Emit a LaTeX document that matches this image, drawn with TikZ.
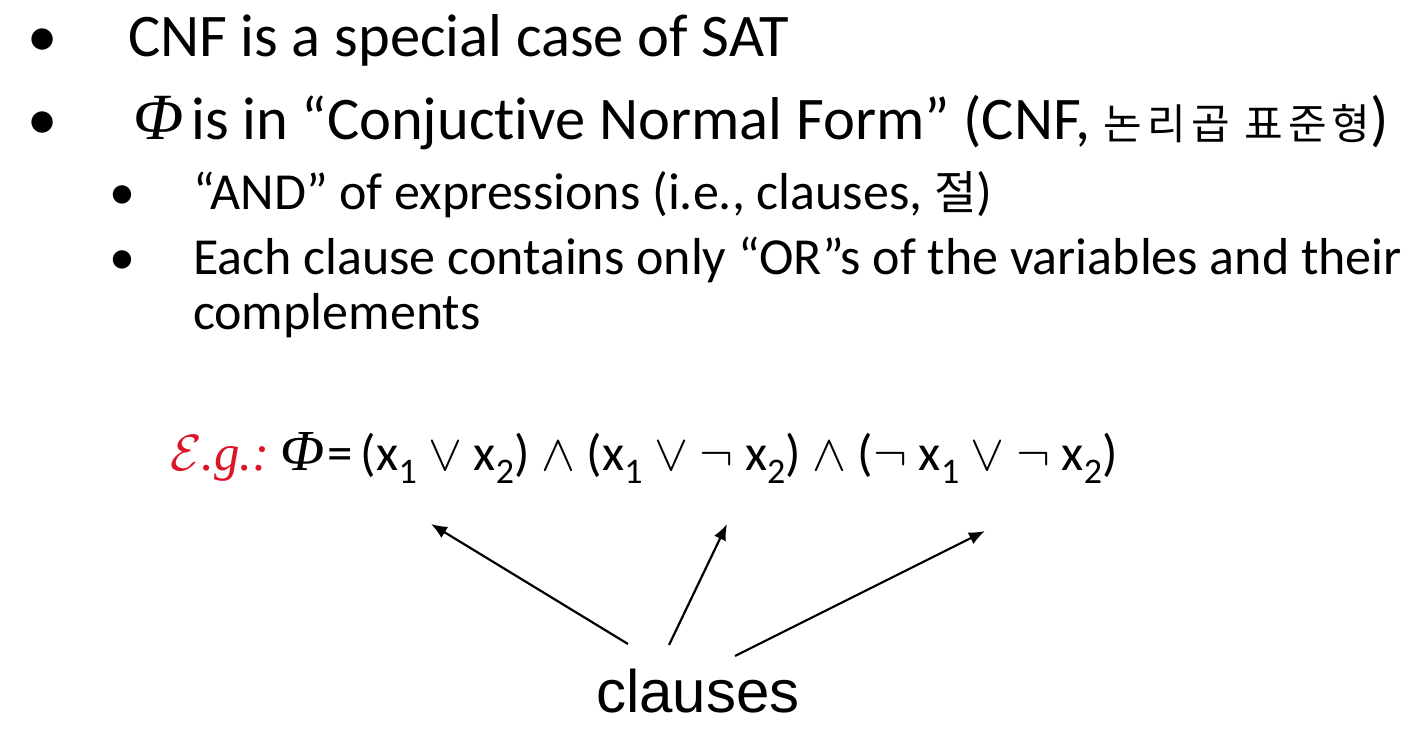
\RequirePackage{fix-cm}
\documentclass[tikz,border=0pt]{standalone}
\usepackage{fontspec}
\setmainfont{Carlito}[Ligatures=CommonOff]
\newfontfamily\kor{Noto Sans CJK KR}[LetterSpace=12]
\newfontfamily\arialf{Liberation Sans}
\newfontfamily\seriff{Liberation Serif}
\usetikzlibrary{arrows.meta}
\definecolor{egred}{RGB}{220,20,40}
\newcommand{\subn}[1]{\raisebox{-0.27em}{\fontsize{36}{36}\selectfont #1}}
\begin{document}
\begin{tikzpicture}[x=1pt,y=-1pt,
  txt/.style={anchor=base west,inner sep=0pt,outer sep=0pt},
  big/.style={font=\fontsize{60.5}{60}\selectfont},
  mid/.style={font=\fontsize{52}{52}\selectfont},
  eqf/.style={font=\fontsize{51}{51}\selectfont},
  arr/.style={line width=2.2pt,-{Latex[length=16pt,width=13pt]}}]
\useasboundingbox (0,0) rectangle (1414,743);
% bullets
\node[txt,big,anchor=base] (b1) at (43,57) {•};
\node[txt,big,anchor=base] (b2) at (43,140) {•};
\node[txt,mid,anchor=base] (b3) at (122,210) {•};
\node[txt,mid,anchor=base] (b4) at (122,275) {•};
% lines
\node[txt,big] (l1) at (128,57) {CNF is a special case of SAT};
\node[txt,big] (l2) at (133,140) {{\seriff\itshape\fontsize{66}{66}\selectfont Φ}\hspace{8pt}is in “Conjuctive Normal Form” (CNF, {\kor\fontsize{42}{42}\selectfont 논리곱 표준형})};
\node[txt,mid] (l3) at (193,210) {“AND” of expressions (i.e., clauses, {\kor\fontsize{46}{46}\selectfont 절})};
\node[txt,mid] (l4) at (193,275) {Each clause contains only “OR”s of the variables and their};
\node[txt,mid] (l5) at (193,330) {complements};
% equation
\node[txt,eqf] (eq) at (170,470) {{\color{egred}\seriff\itshape $\mathcal{E}$.g.:}\hspace{11pt}{\seriff\itshape\fontsize{58}{58}\selectfont Φ}\hspace{3pt}=\hspace{8pt}(x\subn{1} $\vee$ x\subn{2}) $\wedge$ (x\subn{1} $\vee$ $\neg$ x\subn{2}) $\wedge$ ($\neg$ x\subn{1} $\vee$ $\neg$ x\subn{2})};
% clauses
\node[txt,anchor=base,font=\arialf\fontsize{60}{60}\selectfont] (cl) at (698,712) {clauses};
\coordinate (t1) at (628,644);
\coordinate (t2) at (669,645);
\coordinate (t3) at (735,656);
\coordinate (h1) at (431,524);
\coordinate (h2) at (727,524);
\coordinate (h3) at (985,531);
\draw[arr] (t1) -- (h1);
\draw[arr] (t2) -- (h2);
\draw[arr] (t3) -- (h3);
\end{tikzpicture}
\end{document}
